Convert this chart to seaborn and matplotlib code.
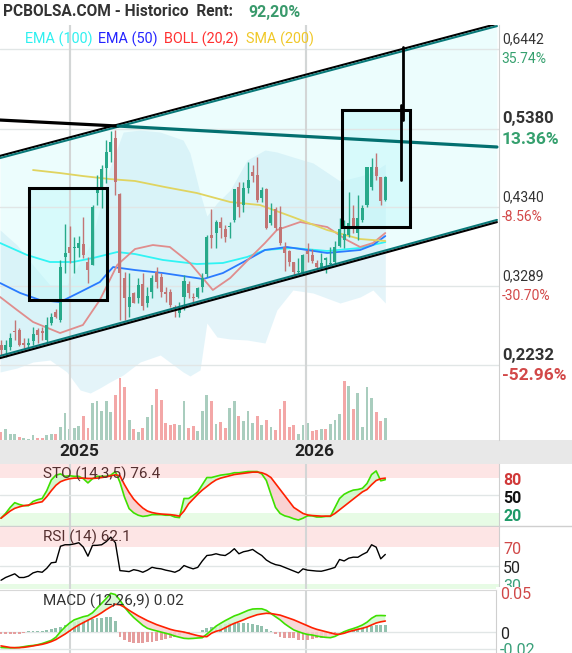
import numpy as np
import matplotlib
matplotlib.use("Agg")
import matplotlib.pyplot as plt
import seaborn as sns
from matplotlib.patches import Rectangle
from matplotlib.transforms import blended_transform_factory, offset_copy

sns.set_style("white")
plt.rcParams['font.family'] = ['Roboto', 'DejaVu Sans']

# ---------------- data (weekly candles, index 0..84) ----------------
opens = [0.2503, 0.2437, 0.2472, 0.2690, 0.2703, 0.2526, 0.2503, 0.2561, 0.2703, 0.2690,
         0.2570, 0.2792, 0.2943, 0.2836, 0.3680, 0.3813, 0.3791, 0.3791, 0.3844, 0.3613,
         0.3569, 0.4532, 0.4568, 0.4856, 0.5078, 0.5256, 0.4515, 0.3391, 0.3014, 0.3200,
         0.3125, 0.3316, 0.3058, 0.3214, 0.3471, 0.3413, 0.3205, 0.3214, 0.3014, 0.2925,
         0.3147, 0.3316, 0.3147, 0.3147, 0.3280, 0.3449, 0.3968, 0.3999, 0.4146, 0.4048,
         0.4071, 0.4168, 0.4604, 0.4368, 0.4590, 0.4803, 0.4768, 0.4457, 0.4581, 0.4133,
         0.4310, 0.4071, 0.3813, 0.3760, 0.3613, 0.3476, 0.3458, 0.3760, 0.3702, 0.3600,
         0.3538, 0.3636, 0.3582, 0.3613, 0.3822, 0.3902, 0.3969, 0.4190, 0.3999, 0.4168,
         0.4368, 0.4612, 0.4870, 0.4737, 0.4435]
highs = [0.2570, 0.2570, 0.2659, 0.2837, 0.2725, 0.2592, 0.2592, 0.2748, 0.2725, 0.2748,
         0.2881, 0.2934, 0.2978, 0.3636, 0.4115, 0.4088, 0.3946, 0.3955, 0.4204, 0.3680,
         0.4368, 0.4768, 0.4901, 0.5234, 0.5358, 0.5367, 0.4532, 0.3480, 0.3458, 0.3214,
         0.3391, 0.3458, 0.3280, 0.3436, 0.3538, 0.3458, 0.3280, 0.3245, 0.3036, 0.3080,
         0.3436, 0.3360, 0.3200, 0.3280, 0.3458, 0.3968, 0.4310, 0.4168, 0.4213, 0.4102,
         0.4146, 0.4586, 0.4679, 0.4679, 0.4945, 0.4901, 0.5012, 0.4612, 0.4590, 0.4399,
         0.4346, 0.4359, 0.3880, 0.3769, 0.3613, 0.3658, 0.3716, 0.3866, 0.3777, 0.3636,
         0.3733, 0.3680, 0.3813, 0.3893, 0.4190, 0.4168, 0.4546, 0.4368, 0.4501, 0.4368,
         0.4879, 0.4990, 0.5056, 0.4745, 0.4754]
lows = [0.2370, 0.2348, 0.2437, 0.2570, 0.2490, 0.2459, 0.2459, 0.2503, 0.2526, 0.2570,
        0.2548, 0.2770, 0.2859, 0.2814, 0.3458, 0.3591, 0.3458, 0.3680, 0.3658, 0.3325,
        0.3569, 0.4368, 0.4324, 0.4657, 0.4945, 0.4501, 0.2837, 0.2837, 0.2881, 0.3058,
        0.3058, 0.2970, 0.3014, 0.3125, 0.3258, 0.3147, 0.3080, 0.3014, 0.2881, 0.2881,
        0.2970, 0.3125, 0.3058, 0.3125, 0.3214, 0.3413, 0.3791, 0.3791, 0.3924, 0.3880,
        0.3924, 0.4146, 0.4213, 0.4279, 0.4524, 0.4679, 0.4413, 0.4413, 0.4044, 0.4102,
        0.4035, 0.3835, 0.3489, 0.3556, 0.3427, 0.3458, 0.3436, 0.3613, 0.3591, 0.3511,
        0.3511, 0.3467, 0.3560, 0.3582, 0.3804, 0.3791, 0.3946, 0.3991, 0.3902, 0.4146,
        0.4346, 0.4568, 0.4701, 0.4368, 0.4426]
closes = [0.2437, 0.2503, 0.2592, 0.2672, 0.2503, 0.2499, 0.2526, 0.2650, 0.2637, 0.2668,
          0.2770, 0.2881, 0.2881, 0.3547, 0.3724, 0.3733, 0.3813, 0.3857, 0.3702, 0.3502,
          0.4346, 0.4577, 0.4843, 0.5078, 0.5212, 0.4679, 0.3458, 0.3125, 0.3147, 0.3067,
          0.3302, 0.3023, 0.3156, 0.3391, 0.3347, 0.3214, 0.3187, 0.3036, 0.2996, 0.2983,
          0.3360, 0.3191, 0.3125, 0.3258, 0.3391, 0.3946, 0.3924, 0.4146, 0.4057, 0.3946,
          0.4093, 0.4577, 0.4337, 0.4590, 0.4701, 0.4754, 0.4435, 0.4568, 0.4057, 0.4230,
          0.4057, 0.3857, 0.3724, 0.3613, 0.3480, 0.3489, 0.3702, 0.3716, 0.3627, 0.3538,
          0.3591, 0.3658, 0.3600, 0.3813, 0.4044, 0.3982, 0.4133, 0.4071, 0.4190, 0.4324,
          0.4870, 0.4879, 0.4754, 0.4426, 0.4746]
volumes = [24, 33, 18, 18, 9, 6, 3, 15, 6, 6, 15, 18, 18, 39, 81, 33, 36, 42, 72, 36,
           111, 117, 87, 117, 84, 135, 186, 159, 60, 33, 24, 36, 69, 105, 153, 120, 51, 45, 48, 45,
           117, 36, 42, 27, 87, 135, 117, 48, 54, 36, 96, 117, 72, 57, 87, 51, 72, 45, 60, 39,
           30, 93, 117, 39, 45, 18, 45, 51, 27, 30, 33, 33, 48, 60, 78, 177, 162, 93, 141, 39,
           159, 126, 84, 57, 66]
volume_dir = ("rgggrgggrr" "ggrgggggrr" "gggggrrrgr" "grggrrrrrg" "grrgggrgrr"
              "ggrgggrgrg" "rrrrrgggrr" "grgggrgrgg" "ggrrg")

# moving averages / bollinger (week position, price)
ema100_w = [-0.2, 5.7, 10.7, 15.7, 20.1, 25.4, 29.3, 35.4, 42.8, 48.5, 53.8, 57.7, 63.8, 71.3, 78.5, 84]
ema100_p = [0.3862, 0.3702, 0.3609, 0.3609, 0.3662, 0.3742, 0.3715, 0.3636, 0.3582, 0.3596,
            0.3676, 0.3769, 0.3796, 0.3756, 0.3796, 0.3875]
ema50_w = [-0.2, 4.2, 8.5, 12.9, 17.3, 21.6, 24.5, 29.3, 35.4, 44.2, 48.5, 53.8, 57.7, 62.5, 71.3, 78.5, 81.3, 84]
ema50_p = [0.3329, 0.3196, 0.3103, 0.3076, 0.3209, 0.3342, 0.3542, 0.3502, 0.3462, 0.3382,
           0.3462, 0.3636, 0.3769, 0.3809, 0.3729, 0.3769, 0.3835, 0.3955]
boll_w = [-0.2, 3.5, 7.0, 12.9, 17.9, 21.6, 25.4, 29.3, 33.2, 36.9, 41.3, 46.3, 50.1, 54.4, 57.7,
          60.3, 65.4, 71.3, 75.6, 78.5, 81.3, 84]
boll_p = [0.3143, 0.2970, 0.2810, 0.2663, 0.2770, 0.3103, 0.3569, 0.3782, 0.3835, 0.3809, 0.3596,
          0.3236, 0.3396, 0.3662, 0.3862, 0.4035, 0.4142, 0.4075, 0.3902, 0.3809, 0.3862, 0.3995]
sma200_w = [7.0, 12.9, 17.9, 23.8, 29.3, 35.8, 42.8, 50.1, 56.6, 63.8, 71.3, 78.5, 84]
sma200_p = [0.4834, 0.4794, 0.4754, 0.4714, 0.4688, 0.4608, 0.4528, 0.4408, 0.4368, 0.4208,
            0.4035, 0.3915, 0.3889]
band_w = [-0.2, 3.5, 7.0, 10.7, 14.4, 17.3, 19.5, 21.6, 23.8, 26.7, 30.4, 34.8, 39.8, 41.3, 43.5,
          45.0, 47.2, 50.1, 53.8, 57.7, 60.3, 63.8, 68.2, 74.1, 78.5, 81.3, 84.0]
band_up = [0.4035, 0.3835, 0.3569, 0.3303, 0.3303, 0.3609, 0.3835, 0.4328, 0.4861, 0.5340, 0.5367,
           0.5340, 0.5234, 0.5061, 0.4528, 0.4222, 0.4395, 0.4568, 0.4968, 0.5101, 0.5074, 0.5008,
           0.4928, 0.4688, 0.4754, 0.4808, 0.4914]
band_lo = [0.2144, 0.2197, 0.2277, 0.2303, 0.2144, 0.1904, 0.1864, 0.1931, 0.2010, 0.2104, 0.2277,
           0.2370, 0.2144, 0.2091, 0.2171, 0.2796, 0.2610, 0.2583, 0.2570, 0.2530, 0.2970, 0.3236,
           0.3196, 0.3063, 0.3143, 0.3236, 0.3063]

# drawings on the chart (week, price)
chan_w = [-0.22, 108.4]
chan_top = [0.5008, 0.6766]
chan_bot = [0.2343, 0.4155]
black_line_w, black_line_p = [-0.22, 25.57], [0.5500, 0.5420]
teal_line_w, teal_line_p = [25.57, 108.4], [0.5420, 0.5141]
boxes = [(6.12, 23.17, 0.3103, 0.4594), (74.54, 89.40, 0.4075, 0.5634)]
spike1_w, spike1_p = [87.87, 87.87], [0.6473, 0.5500]
spike2_w, spike2_p = [87.43, 87.43], [0.5700, 0.4701]

price_levels = [0.6442, 0.5380, 0.4340, 0.3289, 0.2232]
pct_labels = ["35.74%", "13.36%", "-8.56%", "-30.70%", "-52.96%"]
bold_levels = [False, True, False, False, True]
year_weeks = [15.17, 66.6]
year_labels = ["2025", "2026"]

sto_k = [12, 20, 30, 38, 35, 33, 33, 40, 43, 45, 58, 76, 84, 86, 82, 83, 82, 82, 78, 71,
         78, 82, 82, 82, 84, 90, 72, 47, 28, 21, 17, 15, 16, 18, 18, 18, 17, 17, 14, 13,
         45, 45, 50, 56, 68, 80, 80, 82, 84, 85, 86, 88, 88, 89, 90, 90, 90, 86, 75, 52,
         30, 20, 16, 14, 11, 9, 12, 16, 16, 14, 14, 15, 15, 30, 45, 52, 56, 59, 60, 62,
         70, 85, 91, 74.5, 76.4]
sto_d = [12, 18, 24, 28.5, 31, 33, 34, 36, 38, 39.5, 48, 58, 67, 73, 76, 78, 79, 79, 79, 78.5,
         78.5, 79, 80, 81, 83, 84.5, 83, 68, 55, 44, 36, 29, 24, 21.5, 20, 19, 18.5, 18, 17, 15.5,
         24, 36, 44, 52, 59, 65, 71, 76, 79, 81, 83, 85, 86, 87, 88, 89, 89, 88, 85, 80,
         70, 60, 50, 40, 30, 25, 20, 17.5, 16.5, 16, 15.5, 15.5, 15.5, 20, 26, 32, 38, 44, 50, 56,
         60, 68, 75, 78, 79]
rsi = [34, 37, 39, 41, 37, 37, 38.5, 42, 43.5, 42.7, 47, 53, 53.6, 71, 72.6, 72.6, 73.5, 74.8, 70, 60.2,
       71.9, 72, 72.6, 76, 80.9, 74.8, 44.5, 44, 43.4, 45.5, 44.5, 42.7, 45, 48.1, 47, 46.4, 45, 44, 42.7, 45,
       50, 48, 46.4, 48, 55, 60.9, 61.5, 62.8, 61.5, 60.9, 64, 68.3, 62.8, 65, 66, 67.5, 64, 60.9, 56, 53,
       51, 50, 48, 46, 44, 42, 46.4, 45, 44.5, 44, 43.8, 45, 46.4, 48, 56.6, 55, 58, 59.1, 59, 62,
       64.5, 72.6, 70, 57.3, 62.1]
macd = [-20, -20.3, -20.5, -20.3, -20, -19, -18, -17.5, -16.5, -15, -13, -11, -7, 0, 6, 11, 15, 17, 19, 20.3,
        24, 30, 36, 42, 48.6, 47, 40, 31, 24, 18, 13, 8, 4.3, 2.5, 1, -0.5, -2, -3.5, -5.5, -7,
        -8.4, -8.8, -8.5, -8, -7.6, -3, 2, 7, 10.6, 14, 17, 20, 22, 24.5, 27, 28.7, 29, 29, 27, 23,
        19, 15, 10, 6, 2.2, 0, -2, -3.5, -4.2, -5.5, -6.5, -7.2, -7.6, -6, -3, 0, 2.2, 4, 6, 8.5,
        12, 17, 20.3, 20.5, 20.3]
signal = [-18, -19, -20, -20.3, -20.2, -19.8, -19, -18, -17, -16, -14.5, -12.5, -10, -6.5, -3, 1, 5, 8.5, 11.5, 14.5,
          17.5, 20.5, 24, 28, 31.5, 34.7, 34, 31, 27, 23.5, 20, 17, 14, 11.5, 9, 7, 5, 3, 1.5, 0.5,
          -0.5, -2, -3.5, -5, -6, -6.3, -2, 0.5, 2, 5, 8, 10.6, 12.7, 15, 17.5, 19.5, 21.5, 22.5, 23.3, 23,
          22, 21, 19, 17, 15, 12.5, 10, 7.5, 5, 3, 1.5, 0, -1.5, -3, -3.3, -2, 0, 1.5, 3, 4.3,
          6, 8.5, 11, 12.5, 13.5]
hist = [-3, -3, -3, -3, -2.5, -2, 0.5, 1, 1.3, 1.5, 2.5, 3.5, 5, 6.3, 8.5, 10.5, 12, 13.9, 15, 15.6,
        16, 16.9, 17.5, 19, 18.5, 13.9, -6.3, -10, -12.7, -14, -14.8, -14.8, -13.5, -12.7, -11.5, -10.5, -9.5, -8.4, -6.3, -4.5,
        -3.4, -2.1, -1, -0.5, 2, 5.1, 6.5, 7.5, 8.4, 9.5, 10.5, 10.5, 10.5, 10.5, 10.5, 9.5, 8.4, 7, 4, 1,
        -3, -6.3, -7.5, -8.4, -8.4, -10, -10.5, -10.5, -9.5, -8.4, -7.5, -6.3, -4.5, -2.1, -1, 1.3, 2.5, 4.2, 5, 5.5,
        6.3, 7, 8.4, 8.4, 8.4]

# ---------------- layout ----------------
W, H = 572, 653
PX_WEEK = 4.575
X0 = -0.22


def box(x0, y0, x1, y1):
    return [x0 / W, 1 - y1 / H, (x1 - x0) / W, (y1 - y0) / H]


def xlim_for(width_px):
    return (X0, X0 + width_px / PX_WEEK)


fig = plt.figure(figsize=(W / 100, H / 100), dpi=100)
fig.patch.set_facecolor("white")

UP, DOWN = "#27a98a", "#c27575"
VOL_UP, VOL_DOWN = "#a9cdbe", "#f3a7a7"
GRID = "#e1e6e6"
VGRID = "#d3d6d6"
GREEN_TXT, RED_TXT = "#35a06e", "#d24848"

weeks = np.arange(len(closes))
o, h, l, c = map(np.array, (opens, highs, lows, closes))
up = c >= o

# main price panel
ax = fig.add_axes(box(0, 25, 499, 440))
axv = ax.twinx()
ax.set_zorder(axv.get_zorder() + 1)
ax.patch.set_visible(False)
axv.set_facecolor("white")

ax.set_xlim(xlim_for(499))
ax.set_ylim(0.1238, 0.6766)
axv.set_ylim(0, 1245)

vcol = [VOL_UP if d == "g" else VOL_DOWN for d in volume_dir]
axv.bar(weeks, volumes, width=0.62, color=vcol, linewidth=0)

ax.fill_between(chan_w, chan_bot, chan_top, color="#ecfdfd", zorder=1, linewidth=0)
ax.fill_between(band_w, band_lo, band_up, color="#bfe6f3", alpha=0.42, zorder=1.5, linewidth=0)
for w0, w1, p0, p1 in boxes:
    ax.add_patch(Rectangle((w0, p0), w1 - w0, p1 - p0, facecolor="#bff8fa", alpha=0.45,
                           edgecolor="none", zorder=1.8))

for p in price_levels:
    ax.axhline(p, color=GRID, lw=1, zorder=2.5)
for yw in year_weeks:
    ax.axvline(yw, color=VGRID, lw=1.5, zorder=2.5)
    axv.axvline(yw, color=VGRID, lw=1.5)

sns.lineplot(x=ema100_w, y=ema100_p, ax=ax, color="#30f4f4", lw=1.3, estimator=None, sort=False, zorder=3)
sns.lineplot(x=ema50_w, y=ema50_p, ax=ax, color="#2a7bff", lw=1.3, estimator=None, sort=False, zorder=3)
sns.lineplot(x=boll_w, y=boll_p, ax=ax, color="#e08d8d", lw=1.3, estimator=None, sort=False, zorder=3)
sns.lineplot(x=sma200_w, y=sma200_p, ax=ax, color="#e0d460", lw=1.3, estimator=None, sort=False, zorder=3)

ccol = np.where(up, UP, DOWN)
ax.vlines(weeks, l, h, colors=ccol, lw=1.0, zorder=4)
body = np.maximum(np.abs(c - o), 0.0008)
ax.bar(weeks, body, bottom=np.minimum(o, c), width=0.66, color=ccol, linewidth=0, zorder=4.5)

# channel and drawings
t_up = offset_copy(ax.transData, fig=fig, x=0, y=1.1, units="dots")
t_dn = offset_copy(ax.transData, fig=fig, x=0, y=-1.1, units="dots")
ax.plot(chan_w, chan_top, color="black", lw=1.5, transform=t_up, zorder=6)
ax.plot(chan_w, chan_top, color="#087878", lw=1.5, transform=t_dn, zorder=6)
ax.plot(chan_w, chan_bot, color="#087878", lw=1.5, transform=t_up, zorder=6)
ax.plot(chan_w, chan_bot, color="black", lw=1.5, transform=t_dn, zorder=6)
ax.plot(black_line_w, black_line_p, color="black", lw=2.3, zorder=6)
ax.plot(teal_line_w, teal_line_p, color="#037070", lw=2.3, zorder=6)
for w0, w1, p0, p1 in boxes:
    ax.add_patch(Rectangle((w0, p0), w1 - w0, p1 - p0, fill=False, edgecolor="black", lw=2.2, zorder=6))
ax.plot(spike1_w, spike1_p, color="black", lw=2.0, zorder=6)
ax.plot(spike2_w, spike2_p, color="black", lw=2.0, zorder=6)

for a in (ax, axv):
    a.set_xticks([])
    a.set_yticks([])
    a.set_xlabel("")
    a.set_ylabel("")
    for s in a.spines.values():
        s.set_visible(False)
ax.spines["right"].set_visible(True)
ax.spines["right"].set_color("#cfcfcf")

lab_tr = blended_transform_factory(ax.transAxes, ax.transData)
for p, pct, b in zip(price_levels, pct_labels, bold_levels):
    col = GREEN_TXT if not pct.startswith("-") else RED_TXT
    ax.annotate(f"{p:.4f}".replace(".", ","), xy=(1, p), xycoords=lab_tr, xytext=(2, 7.3),
                textcoords="offset points", va="center", ha="left", color="#333333",
                fontsize=12 if b else 10, fontweight="bold" if b else "normal", annotation_clip=False)
    ax.annotate(pct, xy=(1, p), xycoords=lab_tr, xytext=(2, -7.3), textcoords="offset points",
                va="center", ha="left", color=col, fontsize=12.5 if b else 10,
                fontweight="bold" if b else "normal", annotation_clip=False)

# date band
axd = fig.add_axes(box(0, 440, 572, 464))
axd.set_facecolor("#e8e8e8")
axd.set_xlim(xlim_for(572))
axd.set_ylim(0, 1)
axd.set_xticks([])
axd.set_yticks([])
for s in axd.spines.values():
    s.set_visible(False)
for yw, lab in zip(year_weeks, year_labels):
    axd.text(yw + 8.5 / PX_WEEK, 0.52, lab, ha="center", va="center", fontsize=12.5,
             fontweight="bold", color="#222222")


def panel(rect, width_px, ylim, z=0):
    a = fig.add_axes(box(*rect))
    a.set_zorder(z)
    a.set_xlim(xlim_for(width_px))
    a.set_ylim(*ylim)
    a.set_xticks([])
    a.set_yticks([])
    for s in a.spines.values():
        s.set_visible(False)
    a.spines["right"].set_visible(True)
    a.spines["right"].set_color("#cfcfcf")
    for yw in year_weeks:
        a.axvline(yw, color=VGRID, lw=1.5, zorder=1)
    return a


def side_label(a, val, text, color, bold=False, size=10.5):
    tr = blended_transform_factory(a.transAxes, a.transData)
    a.annotate(text, xy=(1, val), xycoords=tr, xytext=(3, -2), textcoords="offset points",
               va="center", ha="left", color=color, fontsize=size,
               fontweight="bold" if bold else "normal", annotation_clip=False)


# STO
ax1 = panel((0, 464, 499, 526), 499, (-1.0, 102.6))
ax1.axhspan(80, 110, color="#fde5e5", lw=0, zorder=0)
ax1.axhspan(-10, 20, color="#e7fbe5", lw=0, zorder=0)
ax1.axhline(50, color=GRID, lw=1, zorder=1)
k, d = np.array(sto_k), np.array(sto_d)
ax1.fill_between(weeks, k, d, where=k >= d, interpolate=True, color="#d3f7cf", lw=0, zorder=2)
ax1.fill_between(weeks, k, d, where=k < d, interpolate=True, color="#f9d2d2", lw=0, zorder=2)
sns.lineplot(x=weeks, y=k, ax=ax1, color="#3ee000", lw=1.2, estimator=None, zorder=3)
sns.lineplot(x=weeks, y=d, ax=ax1, color="#ff2000", lw=1.2, estimator=None, zorder=3)
ax1.axhline(-1.0, xmin=0, xmax=W / 499, color="#cfcfcf", lw=1, clip_on=False)
ax1.text(43 / 499, 86, "STO (14,3,5) 76.4", transform=blended_transform_factory(ax1.transAxes, ax1.transData),
         fontsize=11, color="#553030", va="center")
side_label(ax1, 80, "80", "#d03838", True, 11.5)
side_label(ax1, 50, "50", "#111111", True, 11.5)
side_label(ax1, 20, "20", "#1f9a68", True, 11.5)

# RSI
ax2 = panel((0, 527, 499, 589), 499, (24.5, 91.9))
ax2.axhspan(70, 100, color="#fde5e5", lw=0, zorder=0)
ax2.axhspan(0, 30, color="#e7fbe5", lw=0, zorder=0)
ax2.axhline(50, color=GRID, lw=1, zorder=1)
sns.lineplot(x=weeks, y=rsi, ax=ax2, color="black", lw=1.0, estimator=None, zorder=3)
ax2.text(43 / 499, 80.5, "RSI (14) 62.1", transform=blended_transform_factory(ax2.transAxes, ax2.transData),
         fontsize=11, color="#553030", va="center")
side_label(ax2, 70, "70", "#d04848", False, 11.5)
side_label(ax2, 50, "50", "#222222", False, 11.5)
side_label(ax2, 30, "30", "#3aa07a", False, 11.5)

# MACD (drawn above the RSI panel so its white label column hides the lower part of "30")
ax3 = panel((0, 590, 496, 653), 496, (-0.0270, 0.0528), z=2)
ax3.add_patch(Rectangle((1, 0), (W - 496) / 496, 1.05, transform=ax3.transAxes, facecolor="white",
                        edgecolor="none", clip_on=False, zorder=0))
ax3.spines["top"].set_visible(True)
ax3.spines["top"].set_color("#d8d8d8")
ax3.axhline(0, color=GRID, lw=1, zorder=1)
ax3.axhline(-0.0218, color=GRID, lw=1, zorder=1)
m, s_ = np.array(macd) / 1000, np.array(signal) / 1000
hv = np.array(hist) / 1000
ax3.bar(weeks, hv, width=0.62, color=np.where(hv >= 0, "#93c1ae", "#e59d9d"), lw=0, zorder=2)
ax3.fill_between(weeks, m, s_, where=m >= s_, interpolate=True, color="#d3f7cf", alpha=0.85, lw=0, zorder=2.5)
ax3.fill_between(weeks, m, s_, where=m < s_, interpolate=True, color="#f9d2d2", alpha=0.85, lw=0, zorder=2.5)
sns.lineplot(x=weeks, y=m, ax=ax3, color="#3ee000", lw=1.2, estimator=None, zorder=3)
sns.lineplot(x=weeks, y=s_, ax=ax3, color="#ff2000", lw=1.2, estimator=None, zorder=3)
ax3.text(43 / 496, 0.0390, "MACD (12,26,9) 0.02", transform=blended_transform_factory(ax3.transAxes, ax3.transData),
         fontsize=11, color="#333333", va="center")
side_label(ax3, 0.05, "0.05", "#d04848", False, 11.5)
side_label(ax3, 0.0, "0", "#222222", False, 11.5)
side_label(ax3, -0.02, "-0.02", "#3aa07a", False, 11.5)
for a in (ax1, ax2, ax3):
    a.set_xlabel("")
    a.set_ylabel("")

# header texts
fig.text(3 / W, 1 - 12 / H, "PCBOLSA.COM - Historico  Rent:", fontsize=11.2, fontweight="bold",
         color="#333333", va="center")
fig.text(248 / W, 1 - 12 / H, "92,20%", fontsize=11.5, fontweight="bold", color="#3a9a6c", va="center")
legend_items = [("EMA (100)", "#2ef0f0", 25), ("EMA (50)", "#2424ff", 98),
                ("BOLL (20,2)", "#ff3030", 164), ("SMA (200)", "#f0c828", 246)]
for txt, col, xp in legend_items:
    fig.text(xp / W, 1 - 39 / H, txt, fontsize=10.4, color=col, va="center")

fig.savefig("out.png", dpi=100)
